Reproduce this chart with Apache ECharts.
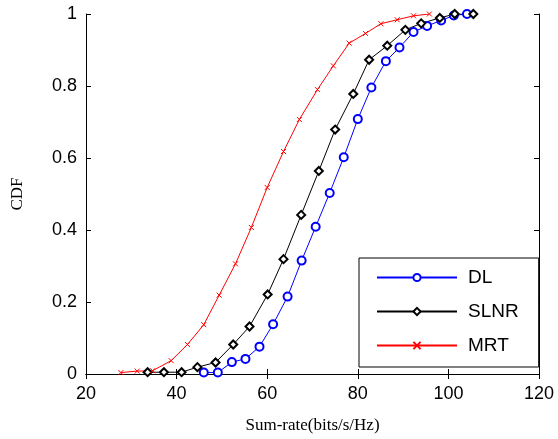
<!DOCTYPE html>
<html>
<head>
<meta charset="utf-8">
<script src="https://cdn.jsdelivr.net/npm/echarts@6/dist/echarts.min.js"></script>
<style>html,body{margin:0;padding:0;background:#fff}#c{width:558px;height:439px}</style>
</head>
<body>
<div id="c"></div>
<script>
const dlX = [46.0,49.1,52.2,55.2,58.3,61.3,64.5,67.6,70.7,73.8,76.9,80.0,83.0,86.2,89.2,92.3,95.3,98.4,101.2,104.1];
const dlY = [0.004,0.004,0.033,0.042,0.076,0.138,0.215,0.315,0.409,0.503,0.602,0.708,0.796,0.869,0.907,0.950,0.967,0.982,0.996,1.0];
const slnrX = [33.6,37.2,41.1,44.6,48.6,52.5,56.1,60.1,63.6,67.5,71.4,75.0,79.0,82.5,86.5,90.5,94.0,98.1,101.4,105.5];
const slnrY = [0.005,0.005,0.005,0.019,0.032,0.082,0.132,0.221,0.319,0.442,0.564,0.679,0.778,0.873,0.912,0.956,0.974,0.989,1.0,1.0];
const mrtX = [27.7,31.3,34.7,38.8,42.4,46.0,49.4,53.0,56.5,60.0,63.6,67.1,71.1,74.6,78.1,81.7,85.1,88.7,92.3,95.8];
const mrtY = [0.004,0.008,0.009,0.037,0.082,0.137,0.219,0.306,0.407,0.518,0.618,0.707,0.790,0.856,0.919,0.946,0.973,0.984,0.995,1.0];
const seriesNames = ['DL','SLNR','MRT'];

function zip(a,b){return a.map((v,i)=>[v,b[i]]);}

const chart = echarts.init(document.getElementById('c'), null, {renderer:'canvas'});
const tickFont = {color:'#000', fontFamily:'Liberation Sans, Arial, sans-serif', fontSize:18};
const nameFont = {color:'#000', fontFamily:'Liberation Serif, Times New Roman, serif', fontSize:17};
const axisBase = {
  axisLine:{show:true, lineStyle:{color:'#000', width:1}},
  axisTick:{show:true, inside:true, length:5, lineStyle:{color:'#000'}},
  splitLine:{show:false}
};
chart.setOption({
  animation:false,
  backgroundColor:'#fff',
  grid:{left:86, right:19, top:14, bottom:64},
  xAxis:[
    Object.assign({type:'value', min:20, max:120, interval:20, position:'bottom',
      axisLabel:Object.assign({margin:11}, tickFont),
      name:'Sum-rate(bits/s/Hz)', nameLocation:'middle', nameGap:43, nameTextStyle:nameFont}, axisBase),
    Object.assign({type:'value', min:20, max:120, interval:20, position:'top', axisLabel:{show:false}}, axisBase)
  ],
  yAxis:[
    Object.assign({type:'value', min:0, max:1, interval:0.2, position:'left',
      axisLabel:Object.assign({margin:9}, tickFont),
      name:'CDF', nameLocation:'middle', nameGap:60, nameRotate:90, nameTextStyle:nameFont}, axisBase),
    Object.assign({type:'value', min:0, max:1, interval:0.2, position:'right', axisLabel:{show:false}}, axisBase)
  ],
  legend:{
    orient:'vertical', left:359, top:258,
    itemWidth:80, itemHeight:9, itemGap:15,
    padding:[10,20,12,17],
    borderColor:'#000', borderWidth:1, backgroundColor:'#fff',
    textStyle:{color:'#000', fontFamily:'Liberation Sans, Arial, sans-serif', fontSize:19, padding:[0,0,0,6]},
    data:seriesNames
  },
  series:[
    {name:seriesNames[0], type:'line', data:zip(dlX,dlY), symbol:'emptyCircle', symbolSize:8,
      lineStyle:{color:'#0000ff', width:1}, itemStyle:{color:'#0000ff', borderWidth:0.8}},
    {name:seriesNames[1], type:'line', data:zip(slnrX,slnrY), symbol:'emptyDiamond', symbolSize:8,
      lineStyle:{color:'#000', width:1}, itemStyle:{color:'#000', borderWidth:0.8}},
    {name:seriesNames[2], type:'line', data:zip(mrtX,mrtY), symbol:'path://M0,0L10,10M10,0L0,10', symbolSize:5,
      lineStyle:{color:'#ff0000', width:1}, itemStyle:{color:'#ff0000', borderColor:'#ff0000', borderWidth:1}}
  ]
});
</script>
</body>
</html>
